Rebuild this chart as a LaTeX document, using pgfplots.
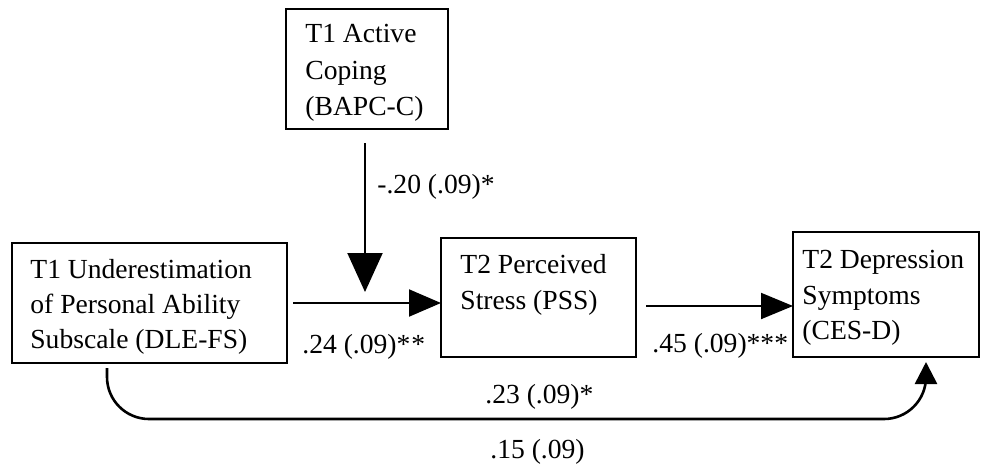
\documentclass[border=0pt]{standalone}
\usepackage{fontspec}
\setmainfont{Liberation Serif}
\usepackage{pgfplots}
\pgfplotsset{compat=1.18}
\usetikzlibrary{arrows.meta}
\begin{document}
\begin{tikzpicture}
\begin{axis}[
  scale only axis, width=491.5bp, height=234bp,
  xmin=0, xmax=983, ymin=0, ymax=468, y dir=reverse,
  hide axis, clip=false,
  every axis plot/.append style={no markers, black},
]
\path (rel axis cs:0,0) rectangle (rel axis cs:1,1);
% boxes
\addplot[line width=1.2bp] coordinates {(286,9) (448,9) (448,129) (286,129)} -- cycle;
\addplot[line width=1.2bp] coordinates {(12,243) (287,243) (287,363) (12,363)} -- cycle;
\addplot[line width=1.2bp] coordinates {(441,238) (636,238) (636,357) (441,357)} -- cycle;
\addplot[line width=1.2bp] coordinates {(793,232) (979,232) (979,357) (793,357)} -- cycle;
% arrows
\addplot[line width=1bp, -{Triangle[length=19.5bp,width=17.5bp]}] coordinates {(365,143) (365,292)};
\addplot[line width=1bp, -{Triangle[length=16bp,width=13.5bp]}] coordinates {(293,303) (441,303)};
\addplot[line width=1bp, -{Triangle[length=16bp,width=13bp]}] coordinates {(646,306) (793,306)};
\addplot[line width=1.3bp, rounded corners=21bp, -{Triangle[length=11bp,width=11bp]}] coordinates {(107,368) (107,419) (926,419) (926,362)};
% texts
\begin{scope}[every node/.style={inner sep=0pt, anchor=base west, font=\fontsize{13.8bp}{17.5bp}\selectfont}]
\node at (axis cs:305,43) {T1 Active};
\node at (axis cs:305,79) {Coping};
\node at (axis cs:305,115) {(BAPC-C)};
\node at (axis cs:30,278) {T1 Underestimation};
\node at (axis cs:30,313) {of Personal Ability};
\node at (axis cs:30,348) {Subscale (DLE-FS)};
\node at (axis cs:460,273) {T2 Perceived};
\node at (axis cs:460,309) {Stress (PSS)};
\node at (axis cs:802,268) {T2 Depression};
\node at (axis cs:802,304) {Symptoms};
\node at (axis cs:802,339) {(CES-D)};
\node at (axis cs:377,193) {-.20 (.09)*};
\node at (axis cs:302,353) {.24 (.09)*\kern0.5pt*};
\node at (axis cs:652,352) {.45 (.09)***};
\node at (axis cs:485,403) {.23 (.09)*};
\node at (axis cs:490,458) {.15 (.09)};
\end{scope}
\end{axis}
\end{tikzpicture}
\end{document}
